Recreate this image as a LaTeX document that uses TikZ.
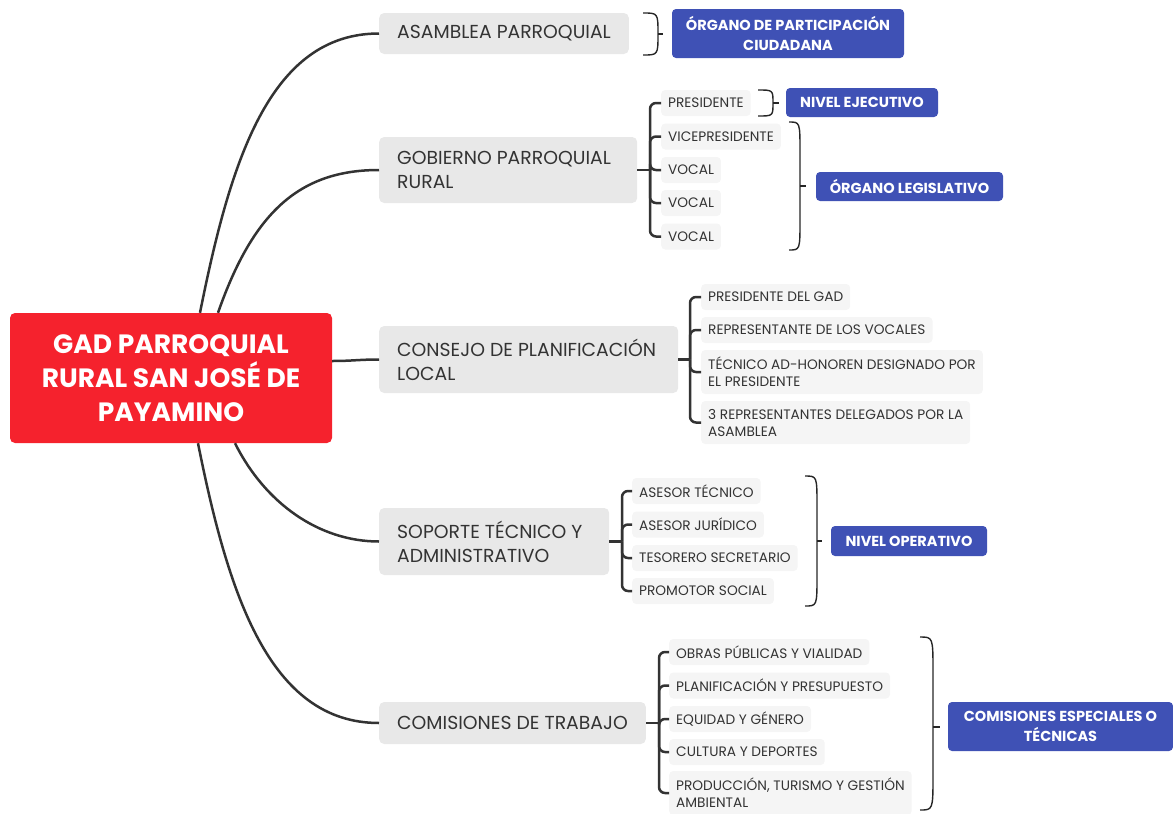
\documentclass[tikz,border=0pt]{standalone}
\usepackage{fontspec}
\setmainfont{Poppins}
\usepackage{xcolor}
\usetikzlibrary{positioning, calc}

\definecolor{rootred}{RGB}{245,34,45}
\definecolor{sumblue}{RGB}{63,81,181}
\definecolor{topicgray}{RGB}{232,232,232}
\definecolor{subgray}{RGB}{245,245,245}
\definecolor{linegray}{RGB}{51,51,51}
\definecolor{textgray}{RGB}{51,51,51}

\tikzset{
  rootbox/.style={fill=rootred, rounded corners=5pt, text=white, align=center,
    font=\bfseries\fontsize{26.5}{34}\selectfont, minimum width=322pt, minimum height=130pt},
  topic/.style={fill=topicgray, rounded corners=5pt, text=textgray, align=flush left, anchor=west,
    inner xsep=18pt, font=\fontsize{18.8}{24}\selectfont, minimum height=41pt},
  subtopic/.style={fill=subgray, rounded corners=4pt, text=textgray, align=left, anchor=west,
    inner xsep=7pt, font=\fontsize{13.7}{17}\selectfont, minimum height=26pt},
  summary/.style={fill=sumblue, rounded corners=4pt, text=white, align=center,
    font=\bfseries\fontsize{14.5}{20}\selectfont},
  branch/.style={draw=linegray, line width=2.5pt},
  fork/.style={branch, rounded corners=6pt},
  brace/.style={draw=black!85, line width=1.4pt},
}

\begin{document}
\begin{tikzpicture}[x=1pt, y=-1pt]
\useasboundingbox (0,0) rectangle (1173,814);

% central topic
\node[rootbox] (root) at (171,378) {GAD PARROQUIAL\\RURAL SAN JOSÉ DE\\PAYAMINO};

% main topics
\node[topic] (asamblea) at (379,33.5) {ASAMBLEA PARROQUIAL};
\node[topic, minimum height=66pt, text width=222pt] (gobierno) at (379,170) {GOBIERNO PARROQUIAL\\RURAL};
\node[topic, minimum height=67pt, text width=263pt] (consejo) at (379,359.5) {CONSEJO DE PLANIFICACIÓN\\LOCAL};
\node[topic, minimum height=67pt, text width=194pt] (soporte) at (379,541.5) {SOPORTE TÉCNICO Y\\ADMINISTRATIVO};
\node[topic, minimum height=42pt] (comisiones) at (379,723) {COMISIONES DE TRABAJO};

\draw[branch] ($(root.north)+(29,0)$) .. controls +(30,-150) and +(-110,0) .. (asamblea.west);
\draw[branch] ($(root.north)+(47,0)$) .. controls +(35,-100) and +(-80,0) .. (gobierno.west);
\draw[branch] ($(root.east)+(0,-17)$) .. controls +(20,0) and +(-20,0) .. (consejo.west);
\draw[branch] ($(root.south)+(64,0)$) .. controls +(30,60) and +(-60,0) .. (soporte.west);
\draw[branch] ($(root.south)+(27,0)$) .. controls +(30,150) and +(-110,0) .. (comisiones.west);

% gobierno parroquial
\node[subtopic] (gobPres) at (661,103) {PRESIDENTE};
\node[subtopic] (gobVice) at (661,136.5) {VICEPRESIDENTE};
\node[subtopic] (gobVocA) at (661,170) {VOCAL};
\node[subtopic] (gobVocB) at (661,203) {VOCAL};
\node[subtopic] (gobVocC) at (661,236.5) {VOCAL};
\coordinate (gobFork) at (650,170);
\draw[branch] (gobierno.east) -- (gobFork);
\foreach \c in {gobPres,gobVice,gobVocA,gobVocB,gobVocC}
  \draw[fork] (gobFork) |- (\c.west);

% consejo de planificacion
\node[subtopic] (cpPres) at (701,297) {PRESIDENTE DEL GAD};
\node[subtopic] (cpRep) at (701,330) {REPRESENTANTE DE LOS VOCALES};
\node[subtopic, minimum height=44pt] (cpTec) at (701,372) {TÉCNICO AD-HONOREN DESIGNADO POR\\EL PRESIDENTE};
\node[subtopic, minimum height=43pt] (cpDel) at (701,422.5) {3 REPRESENTANTES DELEGADOS POR LA\\ASAMBLEA};
\coordinate (cpFork) at (690,359.5);
\draw[branch] (consejo.east) -- (cpFork);
\foreach \c in {cpPres,cpRep,cpTec,cpDel}
  \draw[fork] (cpFork) |- (\c.west);

% soporte tecnico
\node[subtopic] (stAsesT) at (632,491) {ASESOR TÉCNICO};
\node[subtopic] (stAsesJ) at (632,524.5) {ASESOR JURÍDICO};
\node[subtopic] (stTes) at (632,558) {TESORERO SECRETARIO};
\node[subtopic] (stProm) at (632,591) {PROMOTOR SOCIAL};
\coordinate (stFork) at (622,541.5);
\draw[branch] (soporte.east) -- (stFork);
\foreach \c in {stAsesT,stAsesJ,stTes,stProm}
  \draw[fork] (stFork) |- (\c.west);

% comisiones de trabajo
\node[subtopic] (ctObras) at (669,652) {OBRAS PÚBLICAS Y VIALIDAD};
\node[subtopic] (ctPlan) at (669,685.5) {PLANIFICACIÓN Y PRESUPUESTO};
\node[subtopic] (ctEq) at (669,719) {EQUIDAD Y GÉNERO};
\node[subtopic] (ctCult) at (669,752) {CULTURA Y DEPORTES};
\node[subtopic, minimum height=44pt] (ctProd) at (669,793) {PRODUCCIÓN, TURISMO Y GESTIÓN\\AMBIENTAL};
\coordinate (ctFork) at (659,723);
\draw[branch] (comisiones.east) -- (ctFork);
\foreach \c in {ctObras,ctPlan,ctEq,ctCult,ctProd}
  \draw[fork] (ctFork) |- (\c.west);

% summaries
\node[summary, minimum width=232pt, minimum height=49pt] (orgPart) at (788,33.5) {ÓRGANO DE PARTICIPACIÓN\\CIUDADANA};
\node[summary, minimum width=152pt, minimum height=29pt] (nivEjec) at (862,102.5) {NIVEL EJECUTIVO};
\node[summary, minimum width=187pt, minimum height=29pt] (orgLeg) at (909.5,186.5) {ÓRGANO LEGISLATIVO};
\node[summary, minimum width=156pt, minimum height=30pt] (nivOper) at (909,541) {NIVEL OPERATIVO};
\node[summary, minimum width=225pt, minimum height=49pt] (comEsp) at (1060.5,726.5) {COMISIONES ESPECIALES O\\TÉCNICAS};

\draw[brace] (643,13) .. controls (658,13) .. (658,34) .. controls (658,55) .. (643,55);
\draw[brace] (658,34) -- (663,34);
\draw[brace] (758,90) .. controls (773,90) .. (773,103) .. controls (773,116) .. (758,116);
\draw[brace] (773,103) -- (779,103);
\draw[brace] (789,122) .. controls (800,122) .. (800,152) -- (800,220) .. controls (800,250) .. (789,250);
\draw[brace] (800,186) -- (806,186);
\draw[brace] (805,476) .. controls (817,476) .. (817,506) -- (817,576) .. controls (817,606) .. (805,606);
\draw[brace] (817,541) -- (822,541);
\draw[brace] (920,637) .. controls (933,637) .. (933,672) -- (933,775) .. controls (933,810) .. (920,810);
\draw[brace] (933,727) -- (940,727);
\end{tikzpicture}
\end{document}
